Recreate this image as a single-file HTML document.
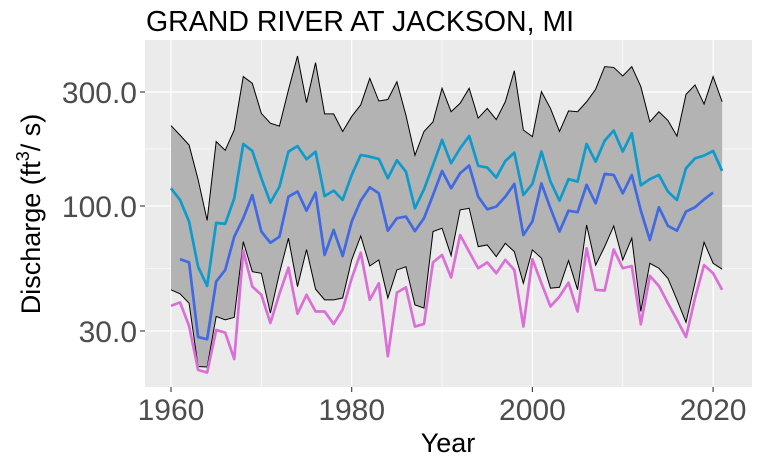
<!DOCTYPE html>
<html><head><meta charset="utf-8"><style>
html,body{margin:0;padding:0;background:#fff;}
svg{display:block;font-family:"Liberation Sans",sans-serif;}
</style></head><body>
<svg id="chart" width="757" height="464" viewBox="0 0 757 464" xmlns="http://www.w3.org/2000/svg">
<rect x="145" y="40" width="607" height="347" fill="#ebebeb"/>
<g id="grid"></g>
<g id="marks"></g>
<g id="axes"></g>
<text x="146" y="31" font-size="28.5" fill="#000">GRAND RIVER AT JACKSON, MI</text>
<text x="448" y="452" font-size="27" text-anchor="middle" fill="#000">Year</text>
<text transform="translate(40,214) rotate(-90)" font-size="27" text-anchor="middle" fill="#000">Discharge (ft<tspan font-size="18" dy="-11">3</tspan><tspan dy="11">/ s)</tspan></text>
</svg>
<script>
const startYear = 1960;
const maxQ = [217,198,180,129,87,186,171,208,348,326,244,222,216,306,424,271,398,243,243,205,237,265,342,275,279,331,240,163,205,225,311,248,269,311,233,256,230,273,368,208,195,301,256,205,250,248,273,308,383,380,350,383,316,225,248,228,196,293,321,267,348,273];
const minQ = [44.6,42.9,39.2,21.3,21.2,34.5,33.4,34.2,70.9,53.1,52.3,35.6,52.3,73.3,46.0,65.8,44.9,40.5,40.5,41.2,59.5,74.9,56.1,59.5,41.2,54.0,55.7,38.6,37.4,78.2,80.7,62,96.3,97.8,67.6,68.7,61.4,69.8,64.4,47.5,65.5,60.5,45.3,45.7,59.1,44.6,83.3,56.6,67.6,82.5,59.5,73.3,36.2,57.6,54.9,49.8,40.5,32.6,47.8,70.5,57.6,54.4];
const meanQ = [118.6,106,86.1,55.7,46.3,85,84.2,107.7,181.8,170,130.7,103.3,120.4,169,178,156.9,168.7,110,116,106,134.9,163.5,160.9,157.4,130.7,155.3,139.3,97.8,117.4,148.5,189,150.9,174.4,196.4,147.3,144.8,131.5,154.3,167.2,111.2,123.7,169,126.5,105.3,129.5,126.5,181.8,153.3,187.6,206.9,169,201.5,122,129.5,134.9,114.9,106,143.8,158.3,162.5,170,140.2];
const avgStart = 1961;
const avgQ = [59.9,58.1,28.3,27.7,48.3,54.0,74.4,88.9,111.2,78.2,70.2,74.4,109.4,114.9,95.6,113.8,62.4,79.4,61.8,86.1,105.3,119.7,113,78.8,88.9,90.3,78.5,88.9,111.2,140.2,118.6,137.1,147.6,109.4,96.9,99.4,109.4,123.7,75.6,86.1,124.3,97.8,78.2,95.6,94.2,122.6,102.6,136.1,134.9,113,134.9,95.6,72.1,98.8,82.6,78.8,94.8,98.8,106.6,113.8];
const lowQ = [38.2,39.5,31.5,20.6,20.1,30.3,29.5,22.9,65.0,46.0,42.5,32.4,42.9,55.2,35.4,42.5,36.2,36.2,32.1,36.9,49.8,63.8,40.5,47.5,23.5,43.4,45.7,31.3,32.1,58.1,62.4,50.2,75.6,64.4,54.9,58.1,52.3,59.5,54.0,31.3,59.9,47.5,38.0,41.8,47.8,36.2,66.6,44.6,44.3,65.8,54.9,56.1,32.0,51.0,46.3,39.2,33.4,28.3,41.2,56.6,52.3,44.6];
const yTicks = [30,100,300];
const yTickLabels = ["30.0","100.0","300.0"];
const yMinor = [54.77,173.2];
const xTicks = [1960,1980,2000,2020];
const xMinor = [1970,1990,2010];

const NS="http://www.w3.org/2000/svg";
function xs(yr){return 171 + (yr-1960)*9.035;}
function ys(v){return 206 - (Math.log10(v)-2)*239;}
function mk(tag,attrs,parent){const e=document.createElementNS(NS,tag);for(const k in attrs)e.setAttribute(k,attrs[k]);parent.appendChild(e);return e;}
const grid=document.getElementById('grid'), marks=document.getElementById('marks'), axes=document.getElementById('axes');
yMinor.forEach(v=>{const l=mk('line',{x1:145,x2:752,y1:ys(v),y2:ys(v),stroke:'#fff','stroke-width':0.6},grid);

});
xMinor.forEach(v=>{const l=mk('line',{x1:xs(v),x2:xs(v),y1:40,y2:387,stroke:'#fff','stroke-width':0.6},grid);

});
yTicks.forEach((v,i)=>{const l=mk('line',{x1:145,x2:752,y1:ys(v),y2:ys(v),stroke:'#fff','stroke-width':1.2},grid);


const t=mk('line',{x1:140,x2:145,y1:ys(v),y2:ys(v),stroke:'#333','stroke-width':1.1},axes);


const tx=mk('text',{x:137,y:ys(v)+11,'font-size':30,'text-anchor':'end',fill:'#4d4d4d'},axes);tx.textContent=yTickLabels[i];

});
xTicks.forEach(v=>{const l=mk('line',{x1:xs(v),x2:xs(v),y1:40,y2:387,stroke:'#fff','stroke-width':1.2},grid);


const t=mk('line',{x1:xs(v),x2:xs(v),y1:387,y2:392,stroke:'#333','stroke-width':1.1},axes);


const tx=mk('text',{x:xs(v),y:420,'font-size':30,'text-anchor':'middle',fill:'#4d4d4d'},axes);tx.textContent=String(v);

});
function pts(arr,start){return arr.map((v,i)=>xs(start+i).toFixed(2)+','+ys(v).toFixed(2));}
const up=pts(maxQ,startYear), lo=pts(minQ,startYear);
const rib=mk('polygon',{points:up.concat(lo.slice().reverse()).join(' '),fill:'#b3b3b3',stroke:'none'},marks);


const ul=mk('polyline',{points:up.join(' '),fill:'none',stroke:'#000','stroke-width':1},marks);


const ll=mk('polyline',{points:lo.join(' '),fill:'none',stroke:'#000','stroke-width':1},marks);


const series=[[meanQ,startYear,'#0e9bcc','mean-line'],[avgQ,avgStart,'#4169e1','moving-average-line'],[lowQ,startYear,'#da70d6','low-flow-line']];
series.forEach(s=>{const p=mk('polyline',{points:pts(s[0],s[1]).join(' '),fill:'none',stroke:s[2],'stroke-width':2.7,'stroke-linejoin':'round'},marks);

});
</script>
</body></html>
